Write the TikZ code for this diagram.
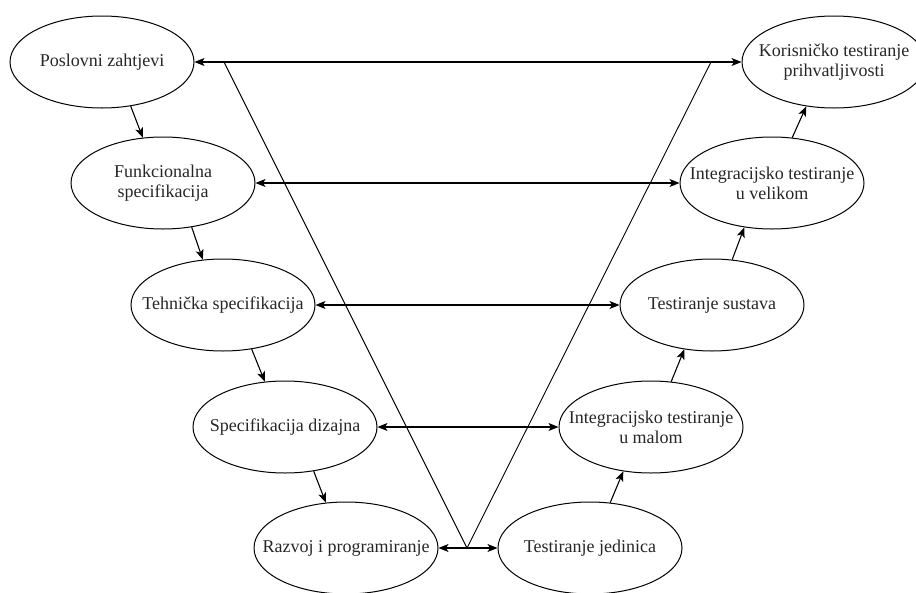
\documentclass[tikz,border=0pt]{standalone}
\usepackage{fontspec}
\setmainfont{Liberation Serif}
\usetikzlibrary{shapes.geometric,arrows.meta}
\begin{document}
\begin{tikzpicture}[x=1pt,y=-1pt,
  phase/.style={ellipse,draw,line width=1pt,minimum width=184pt,minimum height=92pt,inner xsep=-25pt,inner ysep=0pt,align=center,text=black!85,font=\fontsize{18}{20}\selectfont},
  flow/.style={line width=1.1pt,-{Stealth[length=10pt,width=8pt,inset=2.5pt]}},
  link/.style={line width=1.1pt,{Stealth[length=10pt,width=8pt,inset=2.5pt]}-{Stealth[length=10pt,width=8pt,inset=2.5pt]}},
  vline/.style={line width=0.9pt}]
\useasboundingbox (0,0) rectangle (916,592);
\node[phase] (P) at (102,62) {Poslovni zahtjevi};
\node[phase] (F) at (163,183) {Funkcionalna\\specifikacija};
\node[phase] (T) at (223,305) {Tehnička specifikacija};
\node[phase] (S) at (285,427) {Specifikacija dizajna};
\node[phase] (R) at (346,548) {Razvoj i programiranje};
\node[phase] (K) at (834,62) {Korisničko testiranje\\prihvatljivosti};
\node[phase] (IV) at (772,183) {Integracijsko testiranje\\u velikom};
\node[phase] (TS) at (712,305) {Testiranje sustava};
\node[phase] (IM) at (651,427) {Integracijsko testiranje\\u malom};
\node[phase] (TJ) at (590,548) {Testiranje jedinica};
\coordinate (VL) at (224,62);
\coordinate (VR) at (711,62);
\coordinate (VB) at (467,548);
\draw[vline] (VL) -- (VB) -- (VR);
\draw[flow] (P.-57) -- (F.114);
\draw[flow] (F.-57) -- (T.114);
\draw[flow] (T.-57) -- (S.114);
\draw[flow] (S.-57) -- (R.114);
\draw[flow] (TJ.66) -- (IM.-122);
\draw[flow] (IM.66) -- (TS.-122);
\draw[flow] (TS.66) -- (IV.-122);
\draw[flow] (IV.66) -- (K.-122);
\draw[link] (P.east) -- (K.west);
\draw[link] (F.east) -- (IV.west);
\draw[link] (T.east) -- (TS.west);
\draw[link] (S.east) -- (IM.west);
\draw[link] (R.east) -- (TJ.west);
\end{tikzpicture}
\end{document}
